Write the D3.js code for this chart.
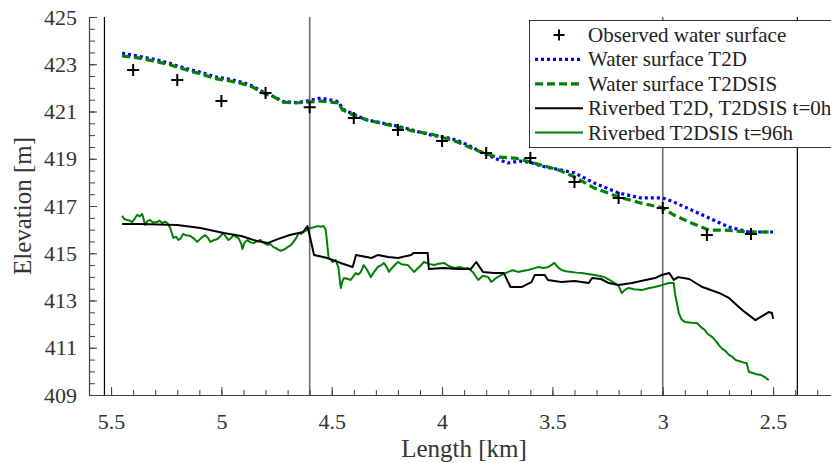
<!DOCTYPE html>
<html><head><meta charset="utf-8">
<script src="https://cdn.jsdelivr.net/npm/d3@7"></script>
</head>
<body style="margin:0;background:#fff">
<svg id="c" width="831" height="463"></svg>
<script>
// ---- data ----
const obsKm   = [5.4,5.2,5.0,4.8,4.6,4.4,4.2,4.0,3.8,3.6,3.4,3.2,3.0,2.8,2.6];
const obsElev = [422.76,422.33,421.44,421.78,421.18,420.72,420.22,419.75,419.24,419.03,418.02,417.34,416.92,415.77,415.81];

const wsT2DKm   = [5.45,5.37,5.29,5.23,5.20,5.14,5.08,5.02,4.96,4.90,4.86,4.81,4.76,4.72,4.66,4.61,4.55,4.47,4.45,4.40,4.34,4.28,4.20,4.13,4.05,3.99,3.93,3.87,3.81,3.75,3.70,3.65,3.60,3.55,3.46,3.40,3.31,3.20,3.10,3.00,2.95,2.87,2.79,2.70,2.61,2.50];
const wsT2DElev = [423.47,423.33,423.18,423.03,422.93,422.77,422.62,422.45,422.36,422.22,422.08,421.82,421.62,421.42,421.38,421.45,421.57,421.42,421.10,420.88,420.64,420.53,420.38,420.20,420.00,419.92,419.78,419.52,419.22,418.98,418.82,418.90,418.85,418.69,418.52,418.40,417.97,417.55,417.34,417.34,417.17,416.83,416.49,416.11,415.90,415.90];

const wsSISKm   = [5.45,5.37,5.29,5.23,5.20,5.14,5.08,5.02,4.96,4.90,4.86,4.81,4.76,4.72,4.66,4.61,4.55,4.47,4.45,4.40,4.34,4.28,4.20,4.13,4.05,3.99,3.93,3.87,3.81,3.75,3.67,3.60,3.52,3.47,3.40,3.31,3.20,3.10,3.00,2.95,2.87,2.79,2.72,2.61,2.50];
const wsSISElev = [423.35,423.26,423.10,422.97,422.88,422.71,422.55,422.38,422.29,422.16,422.04,421.78,421.61,421.40,421.36,421.40,421.44,421.36,421.06,420.85,420.64,420.51,420.34,420.17,420.05,419.88,419.71,419.46,419.24,419.07,419.03,418.86,418.65,418.52,418.23,417.76,417.38,417.13,416.92,416.62,416.28,415.98,415.98,415.90,415.90];

const bed0Km   = [5.45,5.37,5.20,5.095,4.99,4.91,4.84,4.79,4.745,4.69,4.63,4.61,4.58,4.52,4.46,4.405,4.39,4.32,4.29,4.245,4.20,4.14,4.13,4.065,4.06,3.99,3.93,3.87,3.845,3.815,3.765,3.72,3.69,3.64,3.595,3.58,3.535,3.52,3.46,3.40,3.335,3.32,3.28,3.245,3.20,3.14,3.035,3.005,2.97,2.95,2.93,2.88,2.82,2.745,2.70,2.64,2.58,2.55,2.52,2.505,2.50];
const bed0Elev = [416.24,416.24,416.20,416.07,415.86,415.73,415.52,415.43,415.60,415.77,415.90,416.15,414.93,414.80,414.59,414.42,414.93,414.80,414.93,414.84,414.80,414.93,415.01,415.01,414.33,414.38,414.33,414.33,414.63,414.21,414.16,414.16,413.57,413.57,413.78,414.08,414.08,413.87,413.78,413.83,413.74,413.95,413.91,413.74,413.66,413.74,413.95,414.08,414.16,413.87,413.99,413.91,413.57,413.32,413.11,412.60,412.17,412.34,412.51,412.47,412.22];

const bed96Km   = [5.45,5.44,5.427,5.415,5.405,5.39,5.382,5.37,5.359,5.345,5.335,5.323,5.31,5.291,5.28,5.268,5.255,5.245,5.232,5.218,5.205,5.195,5.185,5.173,5.16,5.141,5.125,5.109,5.09,5.073,5.06,5.05,5.035,5.018,5.005,4.991,4.98,4.968,4.955,4.945,4.935,4.923,4.91,4.905,4.895,4.882,4.87,4.855,4.84,4.823,4.81,4.791,4.78,4.764,4.75,4.732,4.715,4.70,4.685,4.673,4.66,4.65,4.64,4.627,4.61,4.595,4.58,4.564,4.55,4.536,4.527,4.514,4.505,4.495,4.482,4.47,4.459,4.452,4.445,4.43,4.414,4.40,4.391,4.38,4.368,4.355,4.34,4.323,4.31,4.291,4.275,4.264,4.25,4.241,4.22,4.20,4.18,4.155,4.14,4.127,4.10,4.082,4.06,4.036,4.015,3.991,3.97,3.945,3.92,3.90,3.882,3.86,3.836,3.815,3.791,3.777,3.755,3.732,3.715,3.70,3.68,3.655,3.63,3.609,3.585,3.564,3.54,3.518,3.505,3.491,3.475,3.459,3.44,3.414,3.39,3.368,3.34,3.309,3.285,3.264,3.24,3.218,3.20,3.186,3.17,3.155,3.13,3.095,3.065,3.036,3.00,2.973,2.95,2.945,2.927,2.915,2.90,2.87,2.845,2.823,2.809,2.80,2.791,2.775,2.755,2.745,2.73,2.715,2.70,2.685,2.67,2.655,2.635,2.62,2.609,2.595,2.575,2.555,2.536,2.52,2.50];
const bed96Elev = [416.58,416.45,416.41,416.38,416.32,416.50,416.62,416.56,416.66,416.20,416.36,416.41,416.30,416.32,416.38,416.28,416.34,416.28,416.07,415.65,415.70,415.56,415.62,415.82,415.76,415.73,415.62,415.48,415.66,415.77,415.64,415.48,415.55,415.60,415.72,415.86,415.70,415.56,415.66,415.77,415.70,415.65,415.40,415.18,415.45,415.56,415.47,415.43,415.50,415.56,415.45,415.35,415.40,415.26,415.20,415.10,415.16,415.26,415.34,415.48,415.66,415.86,415.82,415.90,416.00,416.07,416.10,416.15,416.12,416.15,415.98,414.80,414.72,414.63,414.71,414.40,413.53,413.80,413.95,413.92,413.87,414.05,414.16,414.10,414.21,414.50,414.30,413.99,414.18,414.42,414.50,414.59,414.40,414.21,414.45,414.63,414.52,414.50,414.35,414.21,414.45,414.63,414.55,414.50,414.56,414.59,414.46,414.38,414.42,414.36,414.38,414.20,413.87,414.05,413.99,413.78,413.95,414.08,414.15,414.21,414.28,414.21,414.26,414.29,414.36,414.42,414.38,414.42,414.50,414.59,414.40,414.29,414.24,414.21,414.18,414.16,414.12,414.08,414.04,413.99,413.86,413.74,413.62,413.32,413.46,413.53,413.48,413.44,413.52,413.57,413.66,413.74,413.74,413.32,412.47,412.20,412.09,412.06,412.05,411.84,411.75,411.62,411.55,411.45,411.24,411.10,410.95,410.86,410.70,410.62,410.48,410.44,410.38,410.35,409.97,409.94,409.88,409.85,409.75,409.63];

const vLines = [5.53, 4.6, 3.0, 2.39];
const yTickLabels = [409,411,413,415,417,419,421,423,425];
const xTickLabels = [5.5,5.0,4.5,4.0,3.5,3.0,2.5];
const legendLabels = ["Observed water surface","Water surface T2D","Water surface T2DSIS","Riverbed T2D, T2DSIS t=0h","Riverbed T2DSIS t=96h"];

// ---- chart ----
const FONT = "Liberation Serif";
const svg = d3.select("#c");
const L = 89, T = 17, B = 395, pxPerKm = 220.67;
const x = d3.scaleLinear().domain([5.6, 2.2]).range([L, L + 3.4 * pxPerKm]);
const y = d3.scaleLinear().domain([409, 425]).range([B, T]);
const axisCol = "#404040";
const txt = (sel) => sel.attr("font-family", FONT).style("font-family", FONT);

// vertical lines
const vStyle = [{c:"#000",w:1.2},{c:"#6e6e6e",w:1.6},{c:"#6e6e6e",w:1.6},{c:"#000",w:1.2}];
svg.append("g").selectAll("line").data(vLines).join("line")
  .attr("x1", d => x(d)).attr("x2", d => x(d))
  .attr("y1", y(425)).attr("y2", y(409))
  .attr("stroke", (d,i) => vStyle[i].c).attr("stroke-width", (d,i) => vStyle[i].w);

// axes
const gx = svg.append("g").attr("transform", `translate(0,${B})`);
gx.call(d3.axisBottom(x).tickValues(d3.range(23, 57).map(v => v/10)).tickSize(-5).tickFormat(""));
gx.call(g => g.select(".domain").remove());
const gx2 = svg.append("g").attr("transform", `translate(0,${B})`)
  .call(d3.axisBottom(x).tickValues(xTickLabels).tickSize(-8).tickPadding(18).tickFormat(d3.format("")));
const gy = svg.append("g").attr("transform", `translate(${L},0)`);
gy.call(d3.axisLeft(y).tickValues(d3.range(409, 425.01, 0.5)).tickSize(-6).tickFormat(""));
gy.call(g => g.select(".domain").remove());
const gy2 = svg.append("g").attr("transform", `translate(${L},0)`)
  .call(d3.axisLeft(y).tickValues(yTickLabels).tickSize(-8).tickPadding(12).tickFormat(d3.format("d")));
[gx, gx2, gy, gy2].forEach(g => {
  g.attr("font-family", null).attr("font-size", 22);
  g.selectAll("line").attr("stroke", axisCol).attr("stroke-width", 1);
  g.selectAll(".domain").attr("stroke", axisCol).attr("stroke-width", 1.2);
  txt(g.selectAll("text")).attr("fill", "#333").attr("font-size", 22);
});
gy2.select(".domain").attr("d", `M0.5,${T}V${B}`);
gx2.select(".domain").attr("d", `M${L},0.5H831`);

// axis titles
txt(svg.append("text")).attr("x", 464).attr("y", 457).attr("text-anchor", "middle")
  .attr("font-size", 25).attr("fill", "#333").text("Length [km]");
txt(svg.append("text")).attr("transform", `translate(31,${(T+B)/2}) rotate(-90)`)
  .attr("text-anchor", "middle").attr("font-size", 25).attr("fill", "#333").text("Elevation [m]");

// lines
const mk = (ks, es) => ks.map((k, i) => [k, es[i]]);
const line = d3.line().x(d => x(d[0])).y(d => y(d[1]));
const series = [
  {d: mk(bed96Km, bed96Elev), c: "#008000", w: 2, dash: null},
  {d: mk(bed0Km, bed0Elev), c: "#000", w: 2, dash: null},
  {d: mk(wsT2DKm, wsT2DElev), c: "#0000ff", w: 3.2, dash: "3,3"},
  {d: mk(wsSISKm, wsSISElev), c: "#008000", w: 3.2, dash: "8,4"},
];
series.forEach(s => {
  svg.append("path").attr("d", line(s.d)).attr("fill", "none")
    .attr("stroke", s.c).attr("stroke-width", s.w)
    .attr("stroke-dasharray", s.dash).attr("stroke-linejoin", "round");
});

// observed markers
const plus = (g, cx, cy, s) => g.append("path")
  .attr("d", `M${cx - s/2},${cy}H${cx + s/2}M${cx},${cy - s/2}V${cy + s/2}`)
  .attr("stroke", "#000").attr("stroke-width", 2).attr("fill", "none");
const gm = svg.append("g");
obsKm.forEach((k, i) => plus(gm, x(k), y(obsElev[i]), 12));

// legend
const lg = svg.append("g");
lg.append("rect").attr("x", 529.5).attr("y", 20.5).attr("width", 320).attr("height", 127)
  .attr("fill", "#fff").attr("stroke", "#333").attr("stroke-width", 1);
const legSty = [null,
  {c:"#0000ff", w:3.2, dash:"3,3"},
  {c:"#008000", w:3.2, dash:"8,4"},
  {c:"#000", w:2, dash:null},
  {c:"#008000", w:2, dash:null}];
legendLabels.forEach((t, i) => {
  const cy = 35 + i * 24.4;
  if (i === 0) plus(lg, 559, cy, 11);
  else lg.append("line").attr("x1", 535).attr("x2", 583).attr("y1", cy).attr("y2", cy)
    .attr("stroke", legSty[i].c).attr("stroke-width", legSty[i].w)
    .attr("stroke-dasharray", legSty[i].dash);
  txt(lg.append("text")).attr("x", 588).attr("y", cy + 7).attr("font-size", 21)
    .attr("fill", "#222").text(t);
});
</script></body></html>
